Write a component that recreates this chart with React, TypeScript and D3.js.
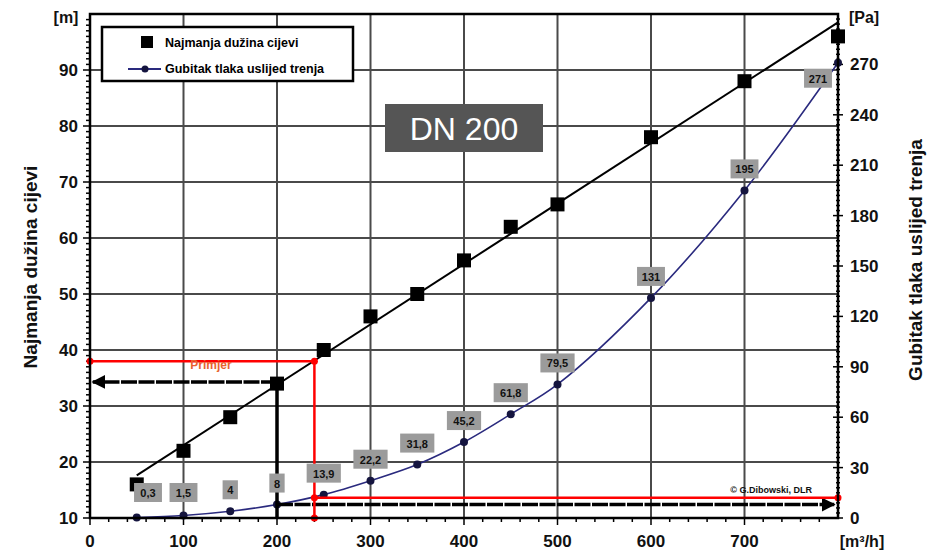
import React from "react";
import * as d3 from "d3";

const flow = [50, 100, 150, 200, 250, 300, 350, 400, 450, 500, 600, 700, 800];
const minLength = [16, 22, 28, 34, 40, 46, 50, 56, 62, 66, 78, 88, 96];
const pressureLoss = [0.3, 1.5, 4, 8, 13.9, 22.2, 31.8, 45.2, 61.8, 79.5, 131, 195, 271];
const pressureLabels = ["0,3", "1,5", "4", "8", "13,9", "22,2", "31,8", "45,2", "61,8", "79,5", "131", "195", "271"];

const xTicks = [0, 100, 200, 300, 400, 500, 600, 700];
const yLeftTicks = [10, 20, 30, 40, 50, 60, 70, 80, 90];
const yRightTicks = [0, 30, 60, 90, 120, 150, 180, 210, 240, 270];

// example annotation values
const exampleFlow = 240;
const exampleLength = 38;
const examplePa = 12;
const refFlow = 200;
const refLength = 34.3;
const refPa = 8;

const W = 932;
const H = 551;
const L = 90, R = 838, T = 14, B = 518;

const FONT = "'Liberation Sans', Arial, sans-serif";

export default function App() {
  const x = d3.scaleLinear().domain([0, 800]).range([L, R]);
  const yL = d3.scaleLinear().domain([10, 100]).range([B, T]);
  const yR = d3.scaleLinear().domain([0, 300]).range([B, T]);

  // linear trend of min length
  const mx = d3.mean(flow)!;
  const my = d3.mean(minLength)!;
  const sxy = d3.sum(flow.map((v, i) => (v - mx) * (minLength[i] - my)));
  const sxx = d3.sum(flow.map((v) => (v - mx) * (v - mx)));
  const slope = sxy / sxx;
  const icpt = my - slope * mx;
  const x0 = flow[0], x1 = flow[flow.length - 1];

  const lossLine = d3
    .line<number>()
    .x((_, i) => x(flow[i]))
    .y((d) => yR(d))
    .curve(d3.curveCatmullRom.alpha(0.5))(pressureLoss)!;

  const minorLeft = d3.range(10, 100, 1);
  const minorRight = d3.range(0, 300, 3);
  const minorX = d3.range(0, 800, 20);

  return (
    <div style={{ position: "absolute", left: 0, top: 0 }}>
      <svg width={W} height={H} style={{ display: "block", background: "#fff" }} fontFamily={FONT}>
        <defs>
          <marker id="ah" viewBox="0 0 10 10" refX="9" refY="5" markerWidth="4" markerHeight="4" orient="auto-start-reverse" markerUnits="strokeWidth">
            <path d="M0,0 L10,5 L0,10 z" fill="#000" />
          </marker>
        </defs>
        <rect x={0} y={0} width={W} height={H} fill="#fff" />

        {/* grid */}
        {xTicks.filter((t) => t > 0).map((t) => (
          <line key={"gx" + t} x1={x(t)} x2={x(t)} y1={T} y2={B} stroke="#4a4a4a" strokeWidth={2} />
        ))}
        {yLeftTicks.filter((t) => t > 10).map((t) => (
          <line key={"gy" + t} x1={L} x2={R} y1={yL(t)} y2={yL(t)} stroke="#4a4a4a" strokeWidth={2} />
        ))}

        {/* minor ticks */}
        {minorLeft.map((t) => (
          <line key={"ml" + t} x1={L - (t % 10 === 0 ? 7 : 4)} x2={L} y1={yL(t)} y2={yL(t)} stroke="#000" strokeWidth={1.5} />
        ))}
        {minorRight.map((t) => (
          <line key={"mr" + t} x1={R - (t % 30 === 0 ? 5 : 2)} x2={R + (t % 30 === 0 ? 5 : 2)} y1={yR(t)} y2={yR(t)} stroke="#000" strokeWidth={1.5} />
        ))}
        {minorX.map((t) => (
          <line key={"mx" + t} x1={x(t)} x2={x(t)} y1={B} y2={B + (t % 100 === 0 ? 7 : 4)} stroke="#000" strokeWidth={1.5} />
        ))}

        {/* DN label */}
        <rect x={385} y={104} width={158} height={48} fill="#555" />
        <text x={464} y={140} textAnchor="middle" fill="#fff" fontSize={32} fontFamily={FONT}>DN 200</text>

        {/* trend line */}
        <line x1={x(x0)} y1={yL(icpt + slope * x0)} x2={x(x1)} y2={yL(icpt + slope * x1)} stroke="#000" strokeWidth={2} />

        {/* squares */}
        {flow.map((f, i) => (
          <rect key={"sq" + i} x={x(f) - 7} y={yL(minLength[i]) - 7} width={14} height={14} fill="#000" />
        ))}

        {/* loss curve */}
        <path d={lossLine} fill="none" stroke="#2a2a7e" strokeWidth={1.6} />
        {flow.map((f, i) => (
          <circle key={"pt" + i} cx={x(f)} cy={yR(pressureLoss[i])} r={4} fill="#15153f" />
        ))}

        {/* black reference lines */}
        <line x1={x(refFlow)} x2={x(refFlow)} y1={yL(refLength) - 2} y2={B} stroke="#000" strokeWidth={3.5} />
        <line x1={x(refFlow)} x2={x(3)} y1={yL(refLength)} y2={yL(refLength)} stroke="#000" strokeWidth={3.5} strokeDasharray="16 1.5" markerEnd="url(#ah)" />
        <line x1={x(refFlow)} x2={x(796)} y1={yR(refPa)} y2={yR(refPa)} stroke="#000" strokeWidth={3.5} strokeDasharray="16 1.5" markerEnd="url(#ah)" />

        {/* red example */}
        <line x1={L} x2={x(exampleFlow)} y1={yL(exampleLength)} y2={yL(exampleLength)} stroke="#ff0000" strokeWidth={2.5} />
        <line x1={x(exampleFlow)} x2={x(exampleFlow)} y1={yL(exampleLength)} y2={B} stroke="#ff0000" strokeWidth={2.5} />
        <line x1={x(exampleFlow)} x2={R} y1={yR(examplePa)} y2={yR(examplePa)} stroke="#ff0000" strokeWidth={2.5} />
        {[
          [L, yL(exampleLength)],
          [x(exampleFlow), yL(exampleLength)],
          [x(exampleFlow), B],
          [x(exampleFlow), yR(examplePa)],
          [R, yR(examplePa)],
        ].map(([cx, cy], i) => (
          <circle key={"rd" + i} cx={cx} cy={cy} r={3.5} fill="#ff0000" />
        ))}
        <text x={211} y={369} textAnchor="middle" fontSize={12} fontWeight="bold" fill="#e8632e">Primjer</text>

        {/* value labels */}
        {flow.map((f, i) => {
          const px = x(f);
          const py = yR(pressureLoss[i]);
          let cx = Math.max(148, Math.min(px, 818));
          let cy = Math.min(py - 21, 493);
          if (px > 818) cy = py + 16;
          const txt = pressureLabels[i];
          const w = txt.length * 6.3 + 9;
          return (
            <g key={"lb" + i}>
              <rect x={cx - w / 2} y={cy - 10} width={w} height={19} fill="#9b9b9b" />
              <text x={cx} y={cy + 4} textAnchor="middle" fontSize={11} fontWeight="bold" fill="#111">{txt}</text>
            </g>
          );
        })}

        <text x={812} y={493} textAnchor="end" fontSize={9} fontWeight="bold" fill="#111">© G.Dibowski, DLR</text>

        {/* frame */}
        <rect x={L} y={T} width={R - L} height={B - T} fill="none" stroke="#000" strokeWidth={2.5} />

        {/* legend */}
        <rect x={102} y={27} width={251} height={54} fill="#fff" stroke="#000" strokeWidth={2.5} />
        <rect x={141} y={36} width={12} height={12} fill="#000" />
        <text x={165} y={47} fontSize={12.5} fontWeight="bold" fill="#000">Najmanja dužina cijevi</text>
        <line x1={128} x2={161} y1={69} y2={69} stroke="#2a2a7e" strokeWidth={2} />
        <circle cx={145} cy={69} r={3.5} fill="#15153f" />
        <text x={165} y={73} fontSize={12.5} fontWeight="bold" fill="#000">Gubitak tlaka uslijed trenja</text>

        {/* tick labels */}
        {yLeftTicks.map((t) => (
          <text key={"tl" + t} x={78} y={yL(t) + 6} textAnchor="end" fontSize={17} fontWeight="bold" fill="#111">{t}</text>
        ))}
        {yRightTicks.map((t) => (
          <text key={"tr" + t} x={850} y={yR(t) + 6} textAnchor="start" fontSize={17} fontWeight="bold" fill="#111">{t}</text>
        ))}
        {xTicks.map((t) => (
          <text key={"tx" + t} x={x(t)} y={547} textAnchor="middle" fontSize={17} fontWeight="bold" fill="#111">{t}</text>
        ))}

        <text x={66} y={23} textAnchor="middle" fontSize={16} fontWeight="bold" fill="#111">[m]</text>
        <text x={864} y={23} textAnchor="middle" fontSize={16} fontWeight="bold" fill="#111">[Pa]</text>
        <text x={862} y={547} textAnchor="middle" fontSize={16} fontWeight="bold" fill="#111">[m³/h]</text>

        <text transform="translate(37,267) rotate(-90)" textAnchor="middle" fontSize={19} fontWeight="bold" fill="#111">Najmanja dužina cijevi</text>
        <text transform="translate(922,260) rotate(-90)" textAnchor="middle" fontSize={19} fontWeight="bold" fill="#111">Gubitak tlaka uslijed trenja</text>
      </svg>
    </div>
  );
}
